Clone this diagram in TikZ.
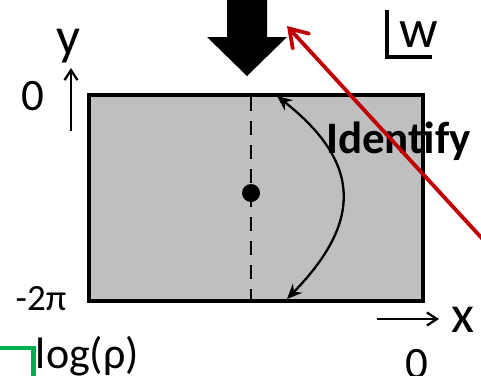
\documentclass[tikz,border=0pt]{standalone}
\usepackage{fontspec}
\setmainfont{Carlito}
\usetikzlibrary{arrows.meta}
\definecolor{boxgray}{RGB}{191,191,191}
\definecolor{darkred}{RGB}{192,0,0}
\definecolor{mygreen}{RGB}{0,176,80}
\begin{document}
\begin{tikzpicture}[x=1pt,y=-1pt,
  lbl/.style={inner sep=0pt,anchor=base},
  axisarrow/.style={line width=2.3pt,-{Straight Barb[length=10pt,width=13pt]}},
  identarrow/.style={line width=2.3pt,{Stealth[length=15pt,width=13pt]}-{Stealth[length=15pt,width=13pt]}},
  redarrow/.style={draw=darkred,line width=3.8pt,line cap=round,-{Straight Barb[length=17pt,width=22pt,line cap=round]}},
  dashline/.style={line width=2.8pt,dash pattern=on 14pt off 10pt},
  cornerline/.style={line width=3.2pt}]
\useasboundingbox (0,0) rectangle (481,375);
% rectangle
\coordinate (r1) at (89,95);
\coordinate (r2) at (423,301);
\fill[boxgray] (r1) rectangle (r2);
% dashed centre line and dot
\coordinate (dtop) at (251,97);
\coordinate (dbot) at (251,301);
\draw[dashline] (dtop) -- (dbot);
\fill (251,193) circle (9pt) coordinate (dot);
% identify arrow
\coordinate (idA) at (277,96);
\coordinate (idB) at (287,299);
\draw[identarrow] (idA) .. controls (362,163) and (362,222) .. (idB);
\node[lbl,font=\fontsize{45}{50}\selectfont\bfseries] (identify) at (398.5,153) {Identify};
\draw[line width=3.6pt] (r1) rectangle (r2);
% block arrow
\fill (227,-2) -- (267,-2) -- (267,37) -- (287,37) -- (247,76) -- (207,37) -- (227,37) -- cycle;
% red arrow
\coordinate (redtip) at (287,26);
\coordinate (redend) at (500,258);
\draw[redarrow] (redend) -- (redtip);
% axes
\coordinate (yA) at (71,131);
\coordinate (yB) at (71,68);
\draw[axisarrow] (yA) -- (yB);
\coordinate (xA) at (377,319);
\coordinate (xB) at (439,319);
\draw[axisarrow] (xA) -- (xB);
% labels
\node[lbl,font=\fontsize{53}{56}\selectfont] (ylab) at (68.5,54) {y};
\node[lbl,font=\fontsize{45}{48}\selectfont] (zeroy) at (32.5,110) {0};
\node[lbl,font=\fontsize{37}{40}\selectfont] (mtwopi) at (41,310) {-2π};
\node[lbl,font=\fontsize{53}{56}\selectfont] (xlab) at (462.5,332) {x};
\node[lbl,font=\fontsize{45}{48}\selectfont] (zerox) at (417,378) {0};
\node[lbl,font=\fontsize{44}{46}\selectfont] (logrho) at (87.5,368) {log(ρ)};
\node[lbl,font=\fontsize{54}{58}\selectfont] (wlab) at (419,47) {w};
% w corner
\coordinate (wc1) at (387,10);
\coordinate (wc2) at (387,57);
\coordinate (wc3) at (432,57);
\draw[cornerline] (wc1) -- (wc2) -- (wc3);
% green corner
\coordinate (g1) at (-5,348);
\coordinate (g2) at (33.5,348);
\coordinate (g3) at (33.5,380);
\draw[mygreen,line width=4.5pt] (g1) -- (g2) -- (g3);
\end{tikzpicture}
\end{document}
